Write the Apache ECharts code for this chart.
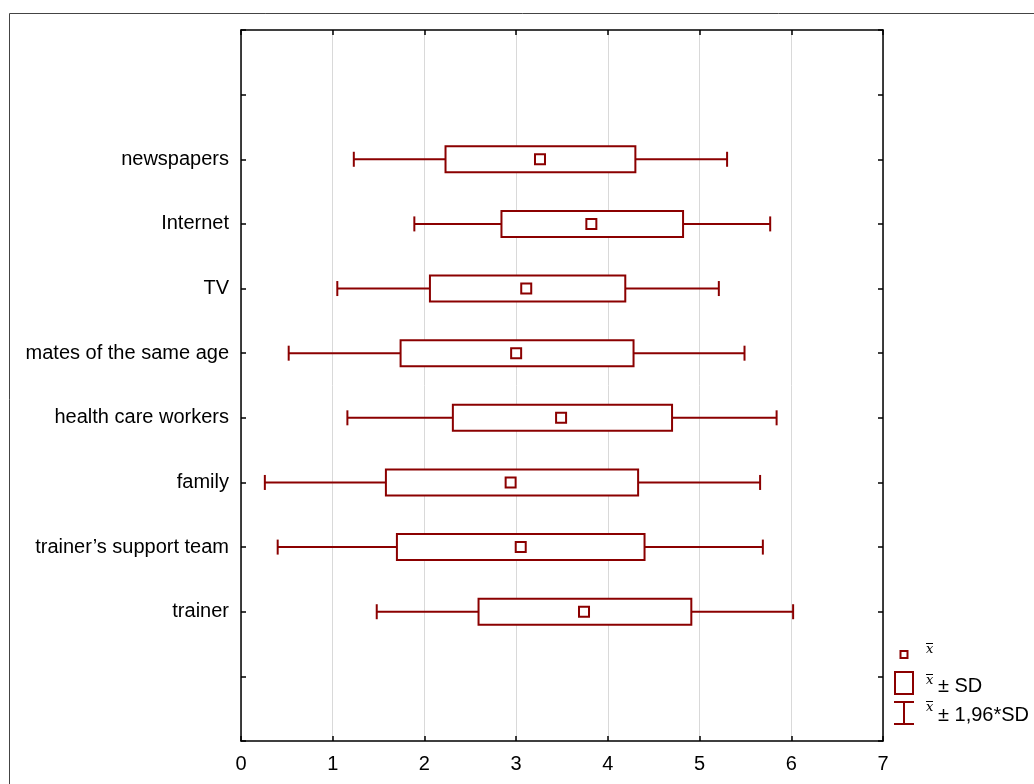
<!DOCTYPE html>
<html>
<head>
<meta charset="utf-8">
<script src="https://cdn.jsdelivr.net/npm/echarts@6/dist/echarts.min.js"></script>
<style>
html,body{margin:0;padding:0;background:#fff;}
#main{width:1034px;height:784px;}
</style>
</head>
<body>
<div id="main"></div>
<script>
// categories, bottom to top
const categories = ['trainer', 'trainer\u2019s support team', 'family', 'health care workers', 'mates of the same age', 'TV', 'Internet', 'newspapers'];
const categoryPos = [2, 3, 4, 5, 6, 7, 8, 9];
const means  = [3.74, 3.05, 2.94, 3.49, 3.00, 3.11, 3.82, 3.26];
const sdLow  = [2.59, 1.70, 1.58, 2.31, 1.74, 2.06, 2.84, 2.23];
const sdHigh = [4.91, 4.40, 4.33, 4.70, 4.28, 4.19, 4.82, 4.30];
const ciLow  = [1.48, 0.40, 0.26, 1.16, 0.52, 1.05, 1.89, 1.23];
const ciHigh = [6.02, 5.69, 5.66, 5.84, 5.49, 5.21, 5.77, 5.30];
const xTicks = [0, 1, 2, 3, 4, 5, 6, 7];

const COLOR = '#8B0000';
const data = categories.map((c, i) => [categoryPos[i], ciLow[i], sdLow[i], means[i], sdHigh[i], ciHigh[i]]);

const chart = echarts.init(document.getElementById('main'), null, {renderer: 'canvas'});

const axisLine = {show: true, onZero: false, lineStyle: {color: '#000', width: 1.5}};
const axisTick = {show: true, inside: true, length: 5, lineStyle: {color: '#000', width: 1.5}};

const option = {
  animation: false,
  backgroundColor: '#fff',
  grid: {left: 241, right: 151, top: 30, bottom: 43, containLabel: false},
  xAxis: [{
    type: 'value', min: xTicks[0], max: xTicks[xTicks.length - 1], interval: 1,
    position: 'bottom',
    axisLine, axisTick,
    axisLabel: {color: '#000', fontSize: 20, fontFamily: 'Liberation Sans, Arial', margin: 13},
    splitLine: {show: true, lineStyle: {color: '#d9d9d9', width: 1}}
  }, {
    type: 'value', min: xTicks[0], max: xTicks[xTicks.length - 1], interval: 1,
    position: 'top',
    axisLine, axisTick,
    axisLabel: {show: false},
    splitLine: {show: false}
  }],
  yAxis: [{
    type: 'value', min: 0, max: 11, interval: 1,
    position: 'left',
    axisLine, axisTick,
    axisLabel: {
      color: '#000', fontSize: 20, fontFamily: 'Liberation Sans, Arial', margin: 12,
      formatter: v => { const i = categoryPos.indexOf(v); return i >= 0 ? categories[i] : ''; }
    },
    splitLine: {show: false}
  }, {
    type: 'value', min: 0, max: 11, interval: 1,
    position: 'right',
    axisLine, axisTick,
    axisLabel: {show: false},
    splitLine: {show: false}
  }],
  series: [{
    type: 'custom',
    xAxisIndex: 0, yAxisIndex: 0,
    encode: {x: [1, 2, 3, 4, 5], y: 0},
    data: data,
    renderItem: function (params, api) {
      const y = api.value(0);
      const lo = api.coord([api.value(1), y]);
      const q1 = api.coord([api.value(2), y]);
      const m = api.coord([api.value(3), y]);
      const q3 = api.coord([api.value(4), y]);
      const hi = api.coord([api.value(5), y]);
      const h = 13, cap = 7.5, ms = 5;
      const st = {stroke: COLOR, lineWidth: 2, fill: null};
      return {
        type: 'group',
        children: [
          {type: 'line', shape: {x1: lo[0], y1: lo[1], x2: q1[0], y2: q1[1]}, style: st},
          {type: 'line', shape: {x1: q3[0], y1: q3[1], x2: hi[0], y2: hi[1]}, style: st},
          {type: 'line', shape: {x1: lo[0], y1: lo[1] - cap, x2: lo[0], y2: lo[1] + cap}, style: st},
          {type: 'line', shape: {x1: hi[0], y1: hi[1] - cap, x2: hi[0], y2: hi[1] + cap}, style: st},
          {type: 'rect', shape: {x: q1[0], y: q1[1] - h, width: q3[0] - q1[0], height: 2 * h}, style: {stroke: COLOR, lineWidth: 2, fill: '#fff'}},
          {type: 'rect', shape: {x: m[0] - ms, y: m[1] - ms, width: 2 * ms, height: 2 * ms}, style: {stroke: COLOR, lineWidth: 2, fill: '#fff'}}
        ]
      };
    }
  }],
  graphic: [
    {type: 'rect', silent: true, z: -1, shape: {x: 9.5, y: 13.5, width: 1200, height: 1000}, style: {stroke: '#444', lineWidth: 1, fill: null}},
    // legend: mean marker
    {type: 'rect', shape: {x: 900.5, y: 651, width: 7, height: 7}, style: {stroke: COLOR, lineWidth: 2, fill: '#fff'}},
    {type: 'text', x: 926, y: 650, style: {text: 'x', font: 'italic 13px "DejaVu Serif", serif', fill: '#000', verticalAlign: 'middle'}},
    {type: 'line', shape: {x1: 926, y1: 643.5, x2: 933, y2: 643.5}, style: {stroke: '#000', lineWidth: 1}},
    // legend: SD box
    {type: 'rect', shape: {x: 895, y: 672, width: 18, height: 22}, style: {stroke: COLOR, lineWidth: 2, fill: '#fff'}},
    {type: 'text', x: 926, y: 681, style: {text: 'x', font: 'italic 13px "DejaVu Serif", serif', fill: '#000', verticalAlign: 'middle'}},
    {type: 'line', shape: {x1: 926, y1: 674.5, x2: 933, y2: 674.5}, style: {stroke: '#000', lineWidth: 1}},
    {type: 'text', x: 938, y: 686, style: {text: '\u00b1 SD', font: '20px "Liberation Sans", Arial', fill: '#000', verticalAlign: 'middle'}},
    // legend: 1.96 SD whisker
    {type: 'line', shape: {x1: 904, y1: 702, x2: 904, y2: 724}, style: {stroke: COLOR, lineWidth: 2}},
    {type: 'line', shape: {x1: 894, y1: 702, x2: 914, y2: 702}, style: {stroke: COLOR, lineWidth: 2}},
    {type: 'line', shape: {x1: 894, y1: 724, x2: 914, y2: 724}, style: {stroke: COLOR, lineWidth: 2}},
    {type: 'text', x: 926, y: 708, style: {text: 'x', font: 'italic 13px "DejaVu Serif", serif', fill: '#000', verticalAlign: 'middle'}},
    {type: 'line', shape: {x1: 926, y1: 701.5, x2: 933, y2: 701.5}, style: {stroke: '#000', lineWidth: 1}},
    {type: 'text', x: 938, y: 715, style: {text: '\u00b1 1,96*SD', font: '20px "Liberation Sans", Arial', fill: '#000', verticalAlign: 'middle'}}
  ]
};
chart.setOption(option);
</script>
</body>
</html>
